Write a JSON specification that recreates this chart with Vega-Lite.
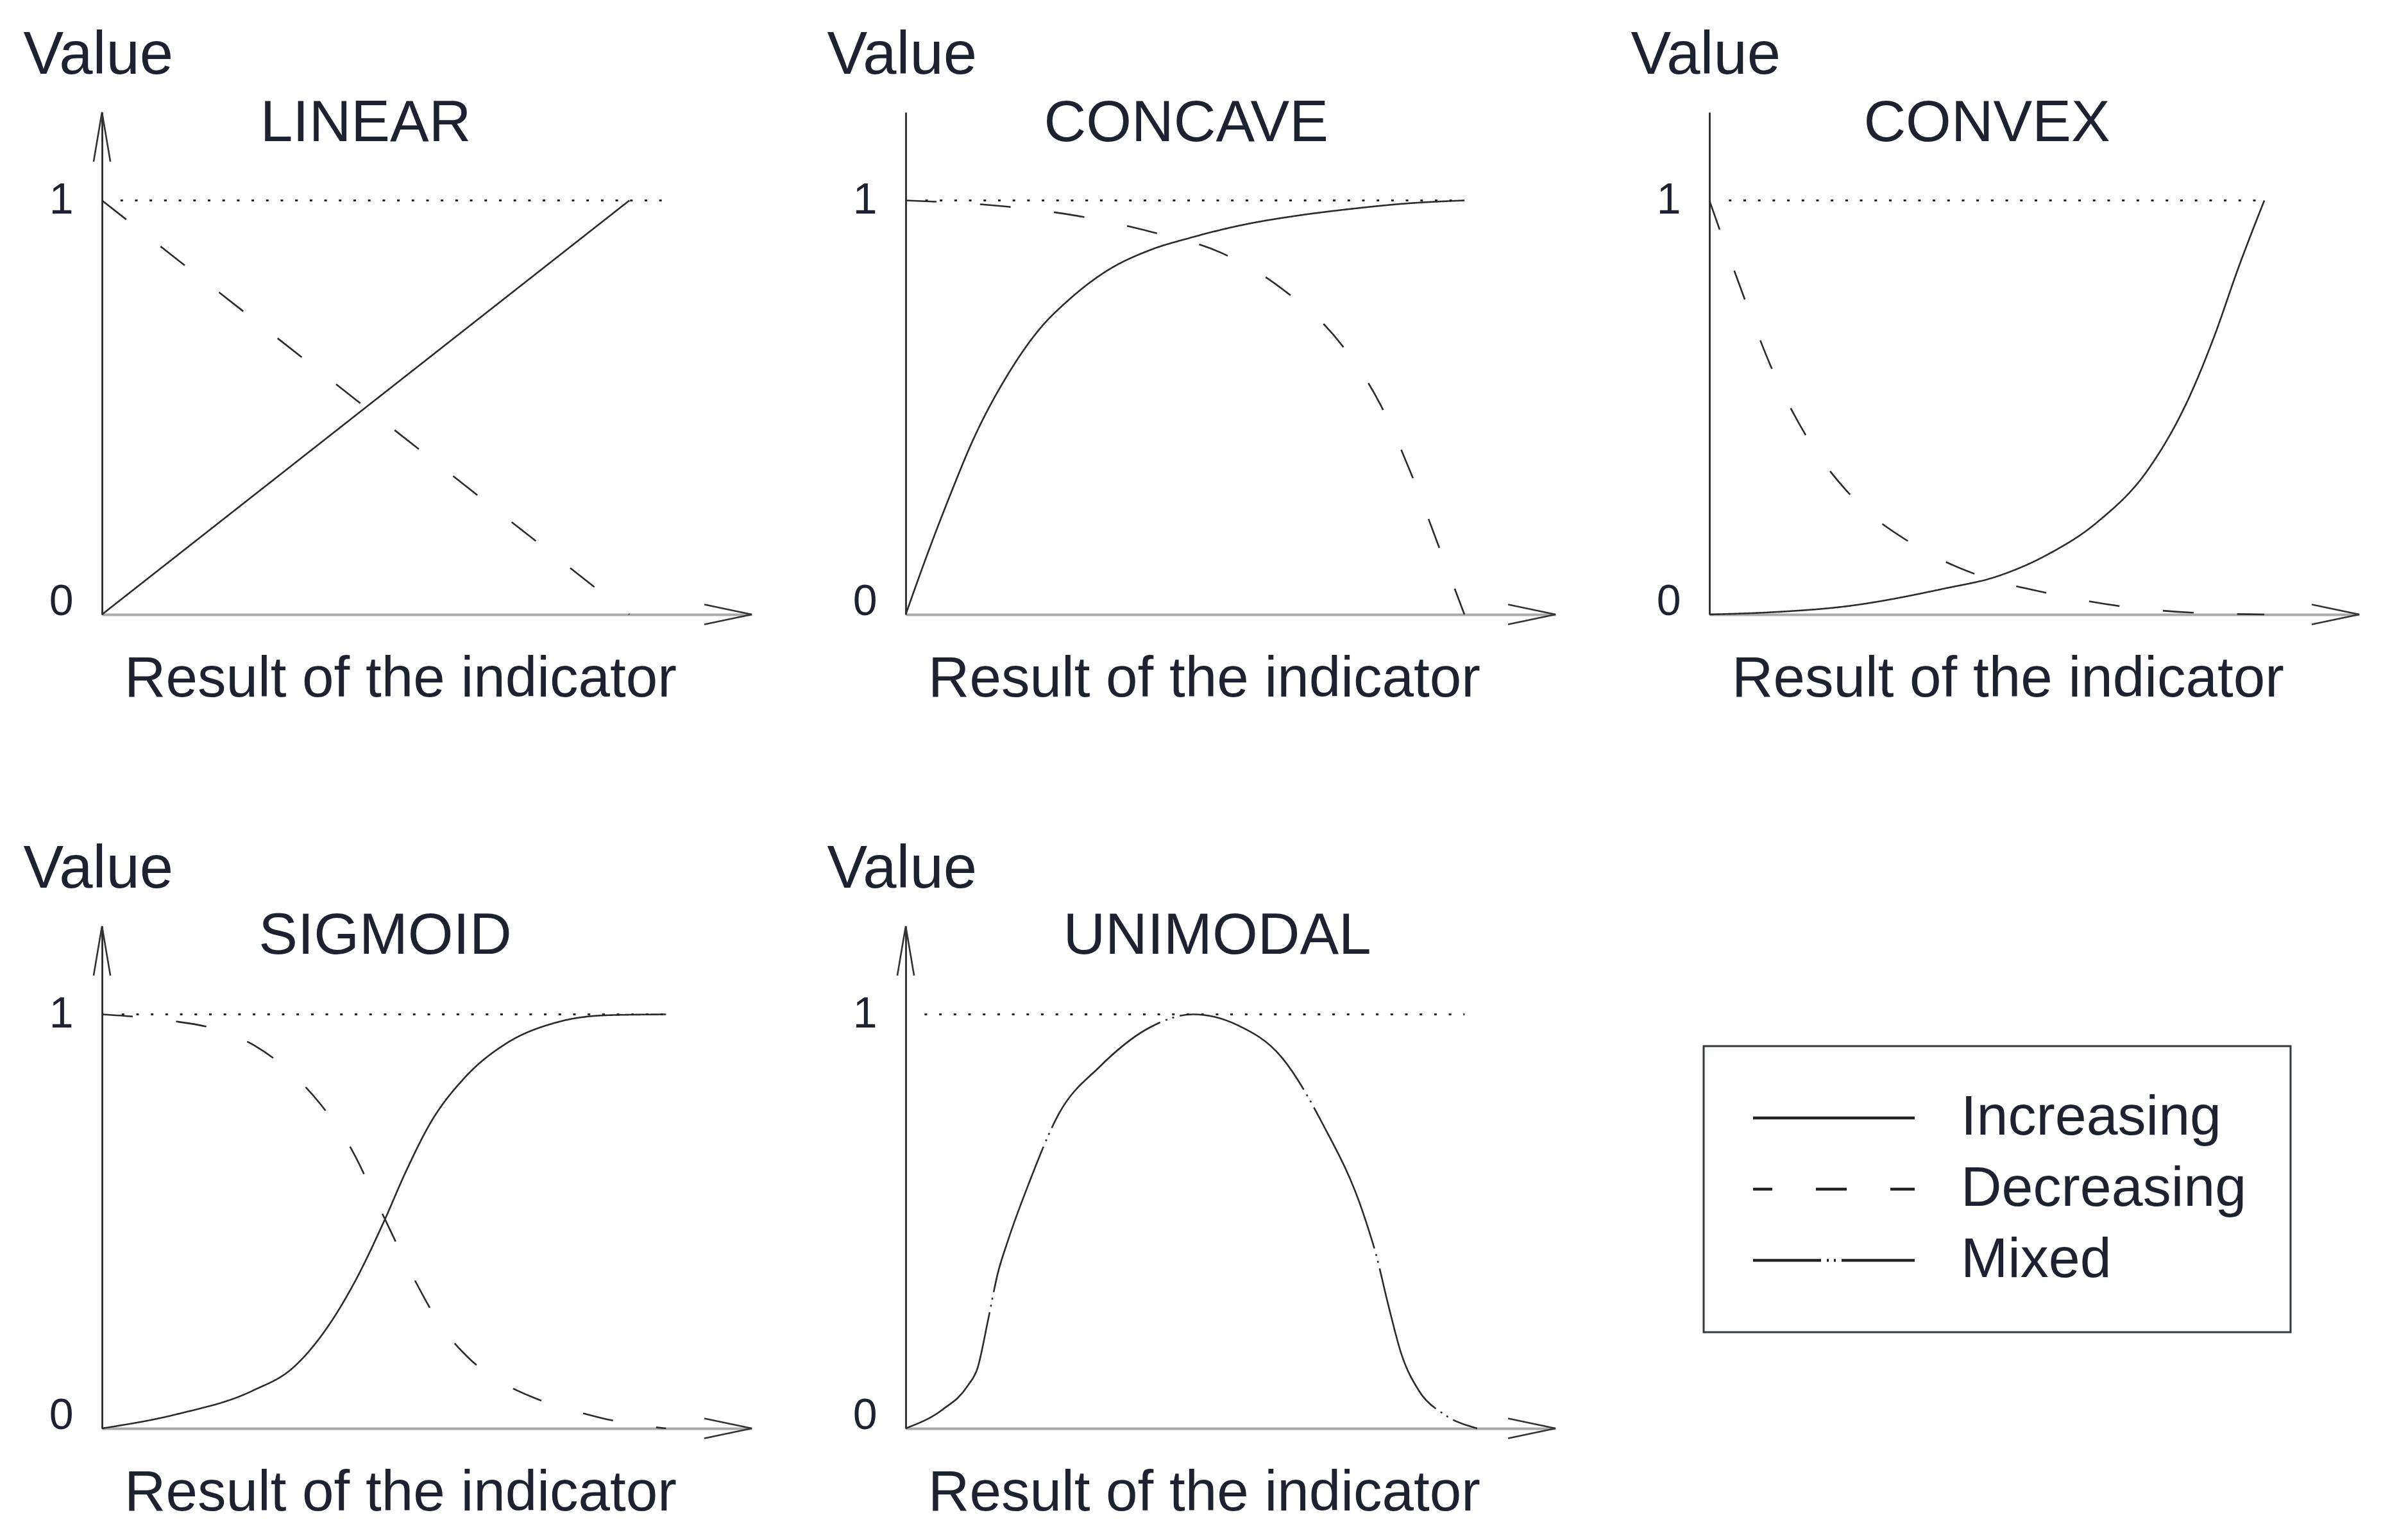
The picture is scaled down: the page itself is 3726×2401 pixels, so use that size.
{
  "$schema": "https://vega.github.io/schema/vega-lite/v6.json",
  "background": "white",
  "padding": {"left": 36, "top": 39, "right": 10, "bottom": 10},
  "datasets": {
    "curves": [
      {"panel": "LINEAR", "type": "Increasing", "x": 0, "y": 0},
      {"panel": "LINEAR", "type": "Increasing", "x": 1, "y": 1},
      {"panel": "LINEAR", "type": "Decreasing", "x": 0, "y": 1},
      {"panel": "LINEAR", "type": "Decreasing", "x": 1, "y": 0},

      {"panel": "CONCAVE", "type": "Increasing", "x": 0, "y": 0},
      {"panel": "CONCAVE", "type": "Increasing", "x": 0.04, "y": 0.15},
      {"panel": "CONCAVE", "type": "Increasing", "x": 0.08, "y": 0.29},
      {"panel": "CONCAVE", "type": "Increasing", "x": 0.12, "y": 0.42},
      {"panel": "CONCAVE", "type": "Increasing", "x": 0.183, "y": 0.58},
      {"panel": "CONCAVE", "type": "Increasing", "x": 0.24, "y": 0.69},
      {"panel": "CONCAVE", "type": "Increasing", "x": 0.292, "y": 0.76},
      {"panel": "CONCAVE", "type": "Increasing", "x": 0.36, "y": 0.83},
      {"panel": "CONCAVE", "type": "Increasing", "x": 0.437, "y": 0.88},
      {"panel": "CONCAVE", "type": "Increasing", "x": 0.51, "y": 0.91},
      {"panel": "CONCAVE", "type": "Increasing", "x": 0.6, "y": 0.94},
      {"panel": "CONCAVE", "type": "Increasing", "x": 0.71, "y": 0.965},
      {"panel": "CONCAVE", "type": "Increasing", "x": 0.8, "y": 0.98},
      {"panel": "CONCAVE", "type": "Increasing", "x": 0.9, "y": 0.993},
      {"panel": "CONCAVE", "type": "Increasing", "x": 1, "y": 1},
      {"panel": "CONCAVE", "type": "Decreasing", "x": 0, "y": 1},
      {"panel": "CONCAVE", "type": "Decreasing", "x": 0.174, "y": 0.986},
      {"panel": "CONCAVE", "type": "Decreasing", "x": 0.306, "y": 0.963},
      {"panel": "CONCAVE", "type": "Decreasing", "x": 0.437, "y": 0.925},
      {"panel": "CONCAVE", "type": "Decreasing", "x": 0.564, "y": 0.874},
      {"panel": "CONCAVE", "type": "Decreasing", "x": 0.678, "y": 0.782},
      {"panel": "CONCAVE", "type": "Decreasing", "x": 0.778, "y": 0.655},
      {"panel": "CONCAVE", "type": "Decreasing", "x": 0.85, "y": 0.506},
      {"panel": "CONCAVE", "type": "Decreasing", "x": 0.905, "y": 0.339},
      {"panel": "CONCAVE", "type": "Decreasing", "x": 0.955, "y": 0.161},
      {"panel": "CONCAVE", "type": "Decreasing", "x": 1, "y": 0},

      {"panel": "CONVEX", "type": "Increasing", "x": 0, "y": 0},
      {"panel": "CONVEX", "type": "Increasing", "x": 0.12, "y": 0.006},
      {"panel": "CONVEX", "type": "Increasing", "x": 0.242, "y": 0.019},
      {"panel": "CONVEX", "type": "Increasing", "x": 0.425, "y": 0.063},
      {"panel": "CONVEX", "type": "Increasing", "x": 0.516, "y": 0.091},
      {"panel": "CONVEX", "type": "Increasing", "x": 0.607, "y": 0.143},
      {"panel": "CONVEX", "type": "Increasing", "x": 0.699, "y": 0.223},
      {"panel": "CONVEX", "type": "Increasing", "x": 0.79, "y": 0.349},
      {"panel": "CONVEX", "type": "Increasing", "x": 0.863, "y": 0.52},
      {"panel": "CONVEX", "type": "Increasing", "x": 0.909, "y": 0.669},
      {"panel": "CONVEX", "type": "Increasing", "x": 0.954, "y": 0.84},
      {"panel": "CONVEX", "type": "Increasing", "x": 1, "y": 1},
      {"panel": "CONVEX", "type": "Decreasing", "x": 0, "y": 1},
      {"panel": "CONVEX", "type": "Decreasing", "x": 0.018, "y": 0.931},
      {"panel": "CONVEX", "type": "Decreasing", "x": 0.064, "y": 0.76},
      {"panel": "CONVEX", "type": "Decreasing", "x": 0.114, "y": 0.589},
      {"panel": "CONVEX", "type": "Decreasing", "x": 0.178, "y": 0.423},
      {"panel": "CONVEX", "type": "Decreasing", "x": 0.26, "y": 0.28},
      {"panel": "CONVEX", "type": "Decreasing", "x": 0.365, "y": 0.171},
      {"panel": "CONVEX", "type": "Decreasing", "x": 0.484, "y": 0.095},
      {"panel": "CONVEX", "type": "Decreasing", "x": 0.612, "y": 0.051},
      {"panel": "CONVEX", "type": "Decreasing", "x": 0.758, "y": 0.017},
      {"panel": "CONVEX", "type": "Decreasing", "x": 0.877, "y": 0.004},
      {"panel": "CONVEX", "type": "Decreasing", "x": 1, "y": 0},

      {"panel": "SIGMOID", "type": "Increasing", "x": 0, "y": 0},
      {"panel": "SIGMOID", "type": "Increasing", "x": 0.132, "y": 0.034},
      {"panel": "SIGMOID", "type": "Increasing", "x": 0.267, "y": 0.091},
      {"panel": "SIGMOID", "type": "Increasing", "x": 0.339, "y": 0.147},
      {"panel": "SIGMOID", "type": "Increasing", "x": 0.402, "y": 0.249},
      {"panel": "SIGMOID", "type": "Increasing", "x": 0.447, "y": 0.351},
      {"panel": "SIGMOID", "type": "Increasing", "x": 0.5, "y": 0.5},
      {"panel": "SIGMOID", "type": "Increasing", "x": 0.537, "y": 0.615},
      {"panel": "SIGMOID", "type": "Increasing", "x": 0.582, "y": 0.737},
      {"panel": "SIGMOID", "type": "Increasing", "x": 0.645, "y": 0.85},
      {"panel": "SIGMOID", "type": "Increasing", "x": 0.717, "y": 0.93},
      {"panel": "SIGMOID", "type": "Increasing", "x": 0.807, "y": 0.981},
      {"panel": "SIGMOID", "type": "Increasing", "x": 0.897, "y": 0.998},
      {"panel": "SIGMOID", "type": "Increasing", "x": 1, "y": 1},
      {"panel": "SIGMOID", "type": "Decreasing", "x": 0, "y": 1},
      {"panel": "SIGMOID", "type": "Decreasing", "x": 0.12, "y": 0.985},
      {"panel": "SIGMOID", "type": "Decreasing", "x": 0.2, "y": 0.965},
      {"panel": "SIGMOID", "type": "Decreasing", "x": 0.27, "y": 0.925},
      {"panel": "SIGMOID", "type": "Decreasing", "x": 0.33, "y": 0.865},
      {"panel": "SIGMOID", "type": "Decreasing", "x": 0.388, "y": 0.782},
      {"panel": "SIGMOID", "type": "Decreasing", "x": 0.44, "y": 0.68},
      {"panel": "SIGMOID", "type": "Decreasing", "x": 0.5, "y": 0.51},
      {"panel": "SIGMOID", "type": "Decreasing", "x": 0.55, "y": 0.37},
      {"panel": "SIGMOID", "type": "Decreasing", "x": 0.6, "y": 0.25},
      {"panel": "SIGMOID", "type": "Decreasing", "x": 0.654, "y": 0.165},
      {"panel": "SIGMOID", "type": "Decreasing", "x": 0.717, "y": 0.105},
      {"panel": "SIGMOID", "type": "Decreasing", "x": 0.766, "y": 0.074},
      {"panel": "SIGMOID", "type": "Decreasing", "x": 0.843, "y": 0.04},
      {"panel": "SIGMOID", "type": "Decreasing", "x": 0.892, "y": 0.023},
      {"panel": "SIGMOID", "type": "Decreasing", "x": 0.95, "y": 0.008},
      {"panel": "SIGMOID", "type": "Decreasing", "x": 1, "y": 0},

      {"panel": "UNIMODAL", "type": "Mixed", "x": 0, "y": 0},
      {"panel": "UNIMODAL", "type": "Mixed", "x": 0.064, "y": 0.045},
      {"panel": "UNIMODAL", "type": "Mixed", "x": 0.108, "y": 0.102},
      {"panel": "UNIMODAL", "type": "Mixed", "x": 0.126, "y": 0.147},
      {"panel": "UNIMODAL", "type": "Mixed", "x": 0.144, "y": 0.261},
      {"panel": "UNIMODAL", "type": "Mixed", "x": 0.161, "y": 0.374},
      {"panel": "UNIMODAL", "type": "Mixed", "x": 0.179, "y": 0.454},
      {"panel": "UNIMODAL", "type": "Mixed", "x": 0.215, "y": 0.59},
      {"panel": "UNIMODAL", "type": "Mixed", "x": 0.268, "y": 0.76},
      {"panel": "UNIMODAL", "type": "Mixed", "x": 0.339, "y": 0.873},
      {"panel": "UNIMODAL", "type": "Mixed", "x": 0.428, "y": 0.969},
      {"panel": "UNIMODAL", "type": "Mixed", "x": 0.503, "y": 1},
      {"panel": "UNIMODAL", "type": "Mixed", "x": 0.579, "y": 0.975},
      {"panel": "UNIMODAL", "type": "Mixed", "x": 0.658, "y": 0.896},
      {"panel": "UNIMODAL", "type": "Mixed", "x": 0.729, "y": 0.737},
      {"panel": "UNIMODAL", "type": "Mixed", "x": 0.8, "y": 0.522},
      {"panel": "UNIMODAL", "type": "Mixed", "x": 0.823, "y": 0.42},
      {"panel": "UNIMODAL", "type": "Mixed", "x": 0.845, "y": 0.295},
      {"panel": "UNIMODAL", "type": "Mixed", "x": 0.867, "y": 0.181},
      {"panel": "UNIMODAL", "type": "Mixed", "x": 0.898, "y": 0.091},
      {"panel": "UNIMODAL", "type": "Mixed", "x": 0.942, "y": 0.034},
      {"panel": "UNIMODAL", "type": "Mixed", "x": 1, "y": 0}
    ]
  },
  "columns": 3,
  "spacing": {"row": 486, "column": 240},
  "bounds": "flush",
  "resolve": {"scale": {"strokeDash": "shared"}, "legend": {"strokeDash": "shared"}},
  "concat": [
    {
      "width": 1013, "height": 783,
      "layer": [
        {
          "data": {"name": "curves"},
          "transform": [{"filter": "datum.panel === 'LINEAR'"}],
          "mark": {"type": "line", "interpolate": "monotone", "strokeWidth": 2.6, "color": "#2b2b2b"},
          "encoding": {
            "x": {"field": "x", "type": "quantitative", "scale": {"domain": [0, 1.232], "nice": false, "zero": false},
                  "axis": {"title": "Result of the indicator", "titleX": 465, "titleY": 127, "titleAlign": "center", "titleBaseline": "alphabetic", "labels": false, "ticks": false, "grid": false}},
            "y": {"field": "y", "type": "quantitative", "scale": {"domain": [0, 1.213], "nice": false},
                  "axis": {"title": "Value", "titleAngle": 0, "titleX": -123, "titleY": -61, "titleAlign": "left", "titleBaseline": "alphabetic", "values": [0, 1], "format": "d", "ticks": false, "grid": false, "labelPadding": 45, "labelFlush": false, "labelOverlap": false, "labelBaseline": {"condition": {"test": "datum.value === 0", "value": "alphabetic"}, "value": "middle"}}},
            "strokeDash": {"field": "type", "type": "nominal",
              "scale": {"domain": ["Increasing", "Decreasing", "Mixed"], "range": [[1, 0], [48, 68], [240, 9, 3, 8, 3, 9]]},
              "legend": {"title": null, "orient": "none", "legendX": 2497, "legendY": 1456, "encode": {"symbols": {"update": {"strokeDashOffset": {"value": 134}}}}}}
          }
        },
        {
          "data": {"values": [{}]},
          "mark": {"type": "rule", "strokeDash": [4, 18.7], "strokeWidth": 3, "color": "#222222"},
          "encoding": {
            "x": {"datum": 0.035, "type": "quantitative"},
            "x2": {"datum": 1.064},
            "y": {"datum": 1, "type": "quantitative"}
          }
        },
        {
          "data": {"values": [{}]},
          "mark": {"type": "point", "shape": "M-0.96,-0.2L0,0L-0.96,0.2", "size": 23716, "filled": false, "strokeWidth": 2.6, "color": "#333333", "opacity": 1},
          "encoding": {
            "x": {"datum": 1.232, "type": "quantitative"},
            "y": {"datum": 0, "type": "quantitative"}
          }
        },
        {
          "data": {"values": [{}]},
          "mark": {"type": "point", "shape": "M-0.17,1L0,0L0.17,1", "size": 23716, "filled": false, "strokeWidth": 2.6, "color": "#333333", "opacity": 1},
          "encoding": {
            "x": {"datum": 0, "type": "quantitative"},
            "y": {"datum": 1.213, "type": "quantitative"}
          }
        },
        {
          "data": {"values": [{}]},
          "mark": {"type": "text", "fontSize": 91, "font": "Liberation Sans", "color": "#1c2230", "baseline": "alphabetic", "align": "center"},
          "encoding": {
            "x": {"datum": 0.5, "type": "quantitative"},
            "y": {"datum": 1.144, "type": "quantitative"},
            "text": {"value": "LINEAR"}
          }
        }
      ]
    },
    {
      "width": 1013, "height": 783,
      "layer": [
        {
          "data": {"name": "curves"},
          "transform": [{"filter": "datum.panel === 'CONCAVE'"}],
          "mark": {"type": "line", "interpolate": "monotone", "strokeWidth": 2.6, "color": "#2b2b2b"},
          "encoding": {
            "x": {"field": "x", "type": "quantitative", "scale": {"domain": [0, 1.163], "nice": false, "zero": false},
                  "axis": {"title": "Result of the indicator", "titleX": 465, "titleY": 127, "titleAlign": "center", "titleBaseline": "alphabetic", "labels": false, "ticks": false, "grid": false}},
            "y": {"field": "y", "type": "quantitative", "scale": {"domain": [0, 1.213], "nice": false},
                  "axis": {"title": "Value", "titleAngle": 0, "titleX": -123, "titleY": -61, "titleAlign": "left", "titleBaseline": "alphabetic", "values": [0, 1], "format": "d", "ticks": false, "grid": false, "labelPadding": 45, "labelFlush": false, "labelOverlap": false, "labelBaseline": {"condition": {"test": "datum.value === 0", "value": "alphabetic"}, "value": "middle"}}},
            "strokeDash": {"field": "type", "type": "nominal",
              "scale": {"domain": ["Increasing", "Decreasing", "Mixed"], "range": [[1, 0], [48, 68], [240, 9, 3, 8, 3, 9]]},
              "legend": {"title": null, "orient": "none", "legendX": 2497, "legendY": 1456, "encode": {"symbols": {"update": {"strokeDashOffset": {"value": 134}}}}}}
          }
        },
        {
          "data": {"values": [{}]},
          "mark": {"type": "rule", "strokeDash": [4, 18.7], "strokeWidth": 3, "color": "#222222"},
          "encoding": {
            "x": {"datum": 0.035, "type": "quantitative"},
            "x2": {"datum": 1.0},
            "y": {"datum": 1, "type": "quantitative"}
          }
        },
        {
          "data": {"values": [{}]},
          "mark": {"type": "point", "shape": "M-0.96,-0.2L0,0L-0.96,0.2", "size": 23716, "filled": false, "strokeWidth": 2.6, "color": "#333333", "opacity": 1},
          "encoding": {
            "x": {"datum": 1.163, "type": "quantitative"},
            "y": {"datum": 0, "type": "quantitative"}
          }
        },
        {
          "data": {"values": [{}]},
          "mark": {"type": "text", "fontSize": 91, "font": "Liberation Sans", "color": "#1c2230", "baseline": "alphabetic", "align": "center"},
          "encoding": {
            "x": {"datum": 0.502, "type": "quantitative"},
            "y": {"datum": 1.144, "type": "quantitative"},
            "text": {"value": "CONCAVE"}
          }
        }
      ]
    },
    {
      "width": 1013, "height": 783,
      "layer": [
        {
          "data": {"name": "curves"},
          "transform": [{"filter": "datum.panel === 'CONVEX'"}],
          "mark": {"type": "line", "interpolate": "monotone", "strokeWidth": 2.6, "color": "#2b2b2b"},
          "encoding": {
            "x": {"field": "x", "type": "quantitative", "scale": {"domain": [0, 1.171], "nice": false, "zero": false},
                  "axis": {"title": "Result of the indicator", "titleX": 465, "titleY": 127, "titleAlign": "center", "titleBaseline": "alphabetic", "labels": false, "ticks": false, "grid": false}},
            "y": {"field": "y", "type": "quantitative", "scale": {"domain": [0, 1.213], "nice": false},
                  "axis": {"title": "Value", "titleAngle": 0, "titleX": -123, "titleY": -61, "titleAlign": "left", "titleBaseline": "alphabetic", "values": [0, 1], "format": "d", "ticks": false, "grid": false, "labelPadding": 45, "labelFlush": false, "labelOverlap": false, "labelBaseline": {"condition": {"test": "datum.value === 0", "value": "alphabetic"}, "value": "middle"}}},
            "strokeDash": {"field": "type", "type": "nominal",
              "scale": {"domain": ["Increasing", "Decreasing", "Mixed"], "range": [[1, 0], [48, 68], [240, 9, 3, 8, 3, 9]]},
              "legend": {"title": null, "orient": "none", "legendX": 2497, "legendY": 1456, "encode": {"symbols": {"update": {"strokeDashOffset": {"value": 134}}}}}}
          }
        },
        {
          "data": {"values": [{}]},
          "mark": {"type": "rule", "strokeDash": [4, 18.7], "strokeWidth": 3, "color": "#222222"},
          "encoding": {
            "x": {"datum": 0.035, "type": "quantitative"},
            "x2": {"datum": 1.0},
            "y": {"datum": 1, "type": "quantitative"}
          }
        },
        {
          "data": {"values": [{}]},
          "mark": {"type": "point", "shape": "M-0.96,-0.2L0,0L-0.96,0.2", "size": 23716, "filled": false, "strokeWidth": 2.6, "color": "#333333", "opacity": 1},
          "encoding": {
            "x": {"datum": 1.171, "type": "quantitative"},
            "y": {"datum": 0, "type": "quantitative"}
          }
        },
        {
          "data": {"values": [{}]},
          "mark": {"type": "text", "fontSize": 91, "font": "Liberation Sans", "color": "#1c2230", "baseline": "alphabetic", "align": "center"},
          "encoding": {
            "x": {"datum": 0.5, "type": "quantitative"},
            "y": {"datum": 1.144, "type": "quantitative"},
            "text": {"value": "CONVEX"}
          }
        }
      ]
    },
    {
      "width": 1013, "height": 783,
      "layer": [
        {
          "data": {"name": "curves"},
          "transform": [{"filter": "datum.panel === 'SIGMOID'"}],
          "mark": {"type": "line", "interpolate": "monotone", "strokeWidth": 2.6, "color": "#2b2b2b"},
          "encoding": {
            "x": {"field": "x", "type": "quantitative", "scale": {"domain": [0, 1.152], "nice": false, "zero": false},
                  "axis": {"title": "Result of the indicator", "titleX": 465, "titleY": 127, "titleAlign": "center", "titleBaseline": "alphabetic", "labels": false, "ticks": false, "grid": false}},
            "y": {"field": "y", "type": "quantitative", "scale": {"domain": [0, 1.213], "nice": false},
                  "axis": {"title": "Value", "titleAngle": 0, "titleX": -123, "titleY": -61, "titleAlign": "left", "titleBaseline": "alphabetic", "values": [0, 1], "format": "d", "ticks": false, "grid": false, "labelPadding": 45, "labelFlush": false, "labelOverlap": false, "labelBaseline": {"condition": {"test": "datum.value === 0", "value": "alphabetic"}, "value": "middle"}}},
            "strokeDash": {"field": "type", "type": "nominal",
              "scale": {"domain": ["Increasing", "Decreasing", "Mixed"], "range": [[1, 0], [48, 68], [240, 9, 3, 8, 3, 9]]},
              "legend": {"title": null, "orient": "none", "legendX": 2497, "legendY": 1456, "encode": {"symbols": {"update": {"strokeDashOffset": {"value": 134}}}}}}
          }
        },
        {
          "data": {"values": [{}]},
          "mark": {"type": "rule", "strokeDash": [4, 18.7], "strokeWidth": 3, "color": "#222222"},
          "encoding": {
            "x": {"datum": 0.035, "type": "quantitative"},
            "x2": {"datum": 1.0},
            "y": {"datum": 1, "type": "quantitative"}
          }
        },
        {
          "data": {"values": [{}]},
          "mark": {"type": "point", "shape": "M-0.96,-0.2L0,0L-0.96,0.2", "size": 23716, "filled": false, "strokeWidth": 2.6, "color": "#333333", "opacity": 1},
          "encoding": {
            "x": {"datum": 1.152, "type": "quantitative"},
            "y": {"datum": 0, "type": "quantitative"}
          }
        },
        {
          "data": {"values": [{}]},
          "mark": {"type": "point", "shape": "M-0.17,1L0,0L0.17,1", "size": 23716, "filled": false, "strokeWidth": 2.6, "color": "#333333", "opacity": 1},
          "encoding": {
            "x": {"datum": 0, "type": "quantitative"},
            "y": {"datum": 1.213, "type": "quantitative"}
          }
        },
        {
          "data": {"values": [{}]},
          "mark": {"type": "text", "fontSize": 91, "font": "Liberation Sans", "color": "#1c2230", "baseline": "alphabetic", "align": "center"},
          "encoding": {
            "x": {"datum": 0.502, "type": "quantitative"},
            "y": {"datum": 1.146, "type": "quantitative"},
            "text": {"value": "SIGMOID"}
          }
        }
      ]
    },
    {
      "width": 1013, "height": 783,
      "layer": [
        {
          "data": {"name": "curves"},
          "transform": [{"filter": "datum.panel === 'UNIMODAL'"}],
          "mark": {"type": "line", "interpolate": "monotone", "strokeWidth": 2.6, "color": "#2b2b2b"},
          "encoding": {
            "x": {"field": "x", "type": "quantitative", "scale": {"domain": [0, 1.137], "nice": false, "zero": false},
                  "axis": {"title": "Result of the indicator", "titleX": 465, "titleY": 127, "titleAlign": "center", "titleBaseline": "alphabetic", "labels": false, "ticks": false, "grid": false}},
            "y": {"field": "y", "type": "quantitative", "scale": {"domain": [0, 1.213], "nice": false},
                  "axis": {"title": "Value", "titleAngle": 0, "titleX": -123, "titleY": -61, "titleAlign": "left", "titleBaseline": "alphabetic", "values": [0, 1], "format": "d", "ticks": false, "grid": false, "labelPadding": 45, "labelFlush": false, "labelOverlap": false, "labelBaseline": {"condition": {"test": "datum.value === 0", "value": "alphabetic"}, "value": "middle"}}},
            "strokeDash": {"field": "type", "type": "nominal",
              "scale": {"domain": ["Increasing", "Decreasing", "Mixed"], "range": [[1, 0], [48, 68], [240, 9, 3, 8, 3, 9]]},
              "legend": {"title": null, "orient": "none", "legendX": 2497, "legendY": 1456, "encode": {"symbols": {"update": {"strokeDashOffset": {"value": 134}}}}}}
          }
        },
        {
          "data": {"values": [{}]},
          "mark": {"type": "rule", "strokeDash": [4, 18.7], "strokeWidth": 3, "color": "#222222"},
          "encoding": {
            "x": {"datum": 0.033, "type": "quantitative"},
            "x2": {"datum": 0.978},
            "y": {"datum": 1, "type": "quantitative"}
          }
        },
        {
          "data": {"values": [{}]},
          "mark": {"type": "point", "shape": "M-0.96,-0.2L0,0L-0.96,0.2", "size": 23716, "filled": false, "strokeWidth": 2.6, "color": "#333333", "opacity": 1},
          "encoding": {
            "x": {"datum": 1.137, "type": "quantitative"},
            "y": {"datum": 0, "type": "quantitative"}
          }
        },
        {
          "data": {"values": [{}]},
          "mark": {"type": "point", "shape": "M-0.17,1L0,0L0.17,1", "size": 23716, "filled": false, "strokeWidth": 2.6, "color": "#333333", "opacity": 1},
          "encoding": {
            "x": {"datum": 0, "type": "quantitative"},
            "y": {"datum": 1.213, "type": "quantitative"}
          }
        },
        {
          "data": {"values": [{}]},
          "mark": {"type": "text", "fontSize": 91, "font": "Liberation Sans", "color": "#1c2230", "baseline": "alphabetic", "align": "center"},
          "encoding": {
            "x": {"datum": 0.545, "type": "quantitative"},
            "y": {"datum": 1.146, "type": "quantitative"},
            "text": {"value": "UNIMODAL"}
          }
        }
      ]
    }
  ],
  "config": {
    "view": {"stroke": null},
    "font": "Liberation Sans",
    "axis": {
      "grid": false, "ticks": false,
      "titleFont": "Liberation Sans", "titleFontSize": 91, "titleFontWeight": "normal", "titleColor": "#1c2230",
      "labelFont": "Liberation Sans", "labelFontSize": 68, "labelColor": "#1c2230"
    },
    "axisX": {"domainColor": "#aaaaaa", "domainWidth": 4, "titleFontSize": 89},
    "axisY": {"domainColor": "#222222", "domainWidth": 2.7, "titleFontSize": 94},
    "legend": {
      "symbolType": "M-5,0H5", "symbolSize": 2540, "symbolStrokeWidth": 4.5, "symbolStrokeColor": "#222222",
      "symbolOffset": 91, "labelOffset": 154, "labelFontSize": 88, "labelFont": "Liberation Sans", "labelColor": "#1c2230",
      "labelLimit": 1000, "rowPadding": 23, "padding": 68, "strokeColor": "#333a40", "strokeWidth": 3,
      "fillColor": "white", "cornerRadius": 0
    }
  }
}
